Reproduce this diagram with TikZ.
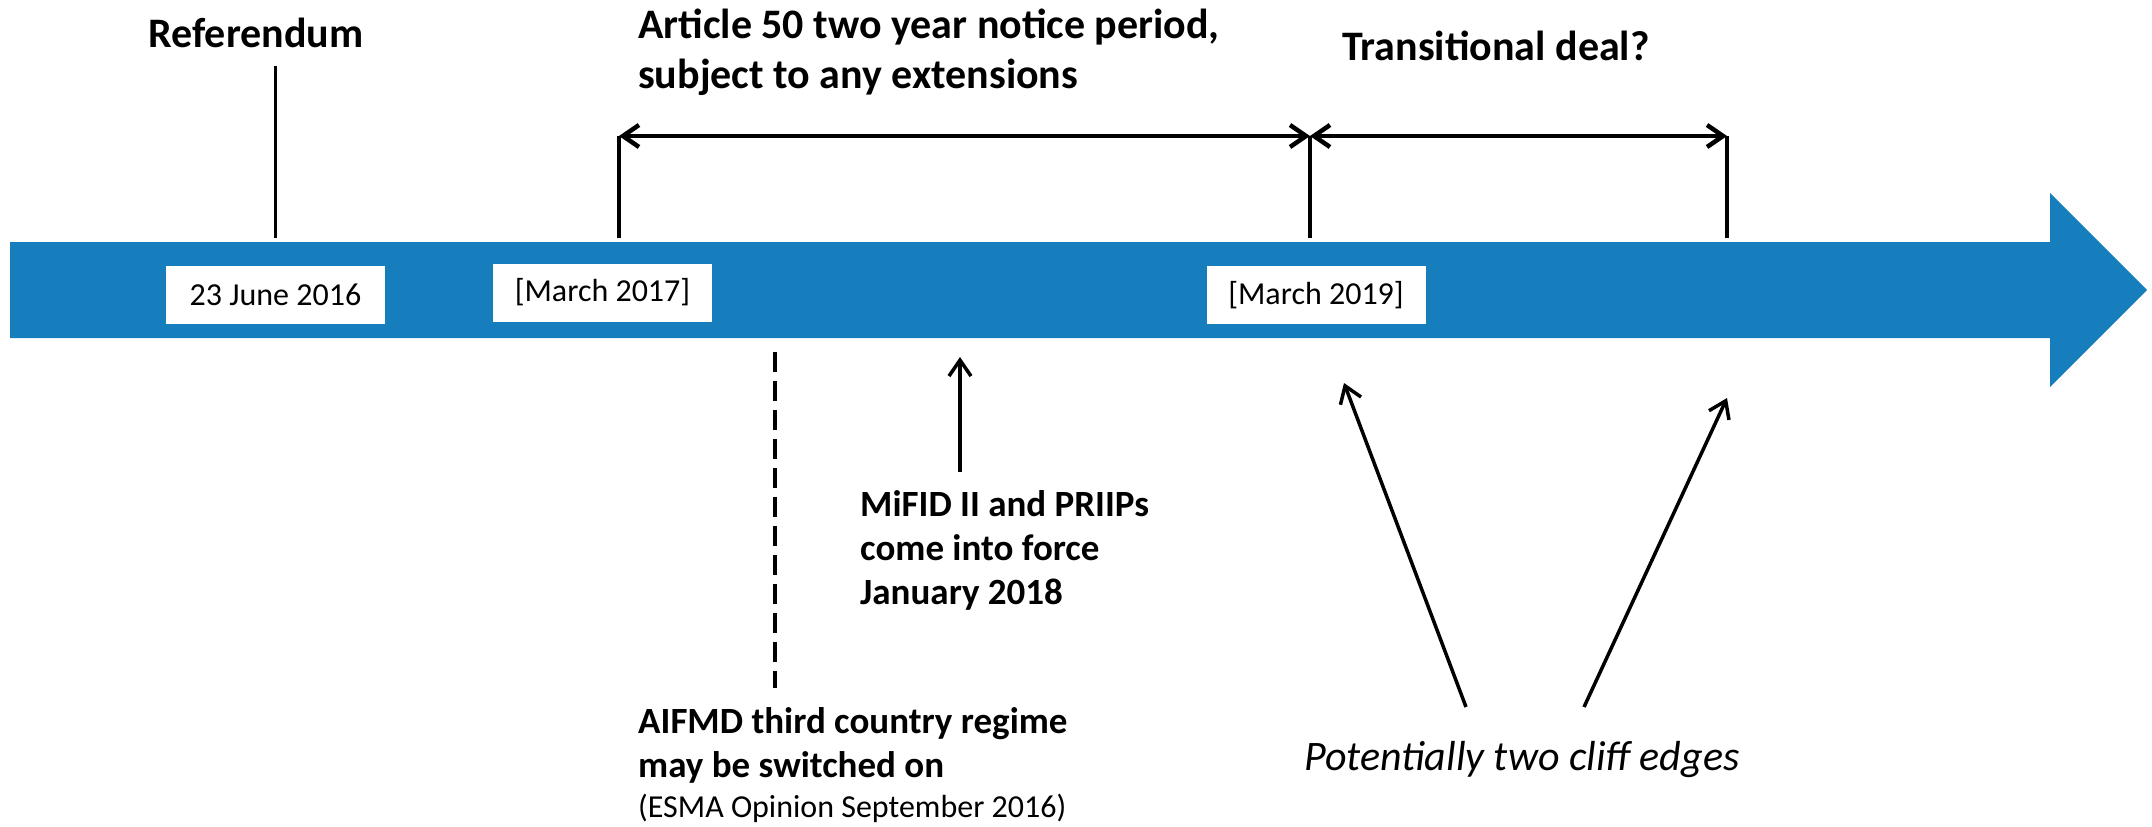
\documentclass[tikz,border=0pt]{standalone}
\usepackage{fontspec}
\setmainfont{Carlito}
\usetikzlibrary{arrows.meta}
\definecolor{timeblue}{RGB}{22,126,189}

\begin{document}
\begin{tikzpicture}[x=1pt, y=-1pt,
  datebox/.style={fill=white, minimum width=219pt, minimum height=58pt, inner sep=0pt, font=\fontsize{32}{38}\selectfont},
  heading/.style={inner sep=0pt, anchor=base west, align=left, font=\bfseries\fontsize{42}{50}\selectfont},
  note/.style={inner sep=0pt, anchor=base west, align=left, font=\bfseries\fontsize{37}{44}\selectfont},
  marker/.style={line width=3.5pt},
  pointer/.style={line width=3.5pt, -{Straight Barb[length=16pt, width=22pt]}},
  span/.style={line width=4.5pt, {Straight Barb[length=16pt, width=22pt]}-{Straight Barb[length=16pt, width=22pt]}}]
\path[use as bounding box] (0,0) rectangle (2152,827);

% the time line
\fill[timeblue] (10,242) -- (2050,242) -- (2050,193) -- (2147,290) -- (2050,387) -- (2050,338) -- (10,338) -- cycle;

\node (june) [datebox] at (275.5,295) {23 June 2016};
\node (mar17) [datebox] at (602.5,292.5) {[March 2017]};
\node (mar19) [datebox] at (1316,295) {[March 2019]};

% base of a node with several lines is its last line
\node (ref) [heading, anchor=base] at (256,47) {Referendum};
\node (art) [heading] at (638,88) {Article 50 two year notice period,\\subject to any extensions};
\node (trans) [heading] at (1342,60) {Transitional deal?};

\node (mifid) [note] at (860,604) {MiFID II and PRIIPs\\come into force\\January 2018};
\node (aifmd) [note] at (638,777) {AIFMD third country regime\\may be switched on};
\node (esma) [inner sep=0pt, anchor=base west, font=\fontsize{32}{38}\selectfont] at (638,817) {(ESMA Opinion September 2016)};
\node (cliff) [inner sep=0pt, anchor=base west, font=\itshape\fontsize{42}{50}\selectfont] at (1304,770) {Potentially two cliff edges};

\coordinate (refTop) at (275.5,66);
\coordinate (refBot) at (275.5,238);
\coordinate (a50) at (619,136);
\coordinate (a50Bot) at (619,238);
\coordinate (exit) at (1310,136);
\coordinate (exitBot) at (1310,238);
\coordinate (deal) at (1727,136);
\coordinate (dealBot) at (1727,238);
\coordinate (aifTop) at (775,352);
\coordinate (aifBot) at (775,688);
\coordinate (mifTail) at (960,472);
\coordinate (mifTip) at (960,357);
\coordinate (cliffA) at (1466,707);
\coordinate (cliffATip) at (1344,383);
\coordinate (cliffB) at (1584,707);
\coordinate (cliffBTip) at (1727,398);

\draw[marker] (refTop) -- (refBot);
\draw[marker] (a50) -- (a50Bot);
\draw[marker] (exit) -- (exitBot);
\draw[marker] (deal) -- (dealBot);
\draw[span] (a50) -- (exit);
\draw[span] (exit) -- (deal);

\draw[marker, dash pattern=on 20pt off 9pt] (aifTop) -- (aifBot);
\draw[pointer] (mifTail) -- (mifTip);
\draw[pointer] (cliffA) -- (cliffATip);
\draw[pointer] (cliffB) -- (cliffBTip);
\end{tikzpicture}
\end{document}
